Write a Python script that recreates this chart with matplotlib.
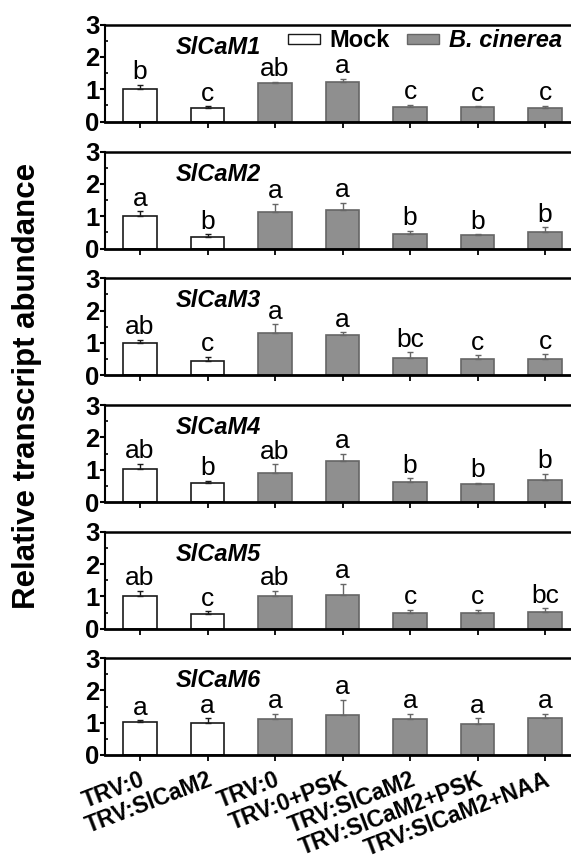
import numpy as np
import matplotlib
matplotlib.use("Agg")
import matplotlib.pyplot as plt
from matplotlib.patches import Patch

plt.rcParams['font.family'] = ['Liberation Sans', 'DejaVu Sans']

treatments = ['TRV:0', 'TRV:SlCaM2', 'TRV:0', 'TRV:0+PSK',
              'TRV:SlCaM2', 'TRV:SlCaM2+PSK', 'TRV:SlCaM2+NAA']
genes = ['SlCaM1', 'SlCaM2', 'SlCaM3', 'SlCaM4', 'SlCaM5', 'SlCaM6']
# first two bars are mock, the rest B. cinerea
is_mock = [True, True, False, False, False, False, False]

means = [
    [1.01, 0.42, 1.19, 1.21, 0.44, 0.44, 0.41],
    [1.00, 0.37, 1.13, 1.18, 0.45, 0.42, 0.50],
    [1.00, 0.44, 1.30, 1.25, 0.53, 0.49, 0.50],
    [1.02, 0.59, 0.90, 1.27, 0.63, 0.57, 0.67],
    [1.00, 0.44, 1.01, 1.04, 0.48, 0.48, 0.51],
    [1.01, 0.98, 1.10, 1.25, 1.12, 0.96, 1.15],
]
errs = [
    [0.12, 0.05, 0.04, 0.11, 0.07, 0.03, 0.07],
    [0.15, 0.07, 0.25, 0.24, 0.09, 0.02, 0.15],
    [0.10, 0.13, 0.28, 0.08, 0.18, 0.13, 0.15],
    [0.17, 0.07, 0.26, 0.23, 0.11, 0.02, 0.21],
    [0.17, 0.10, 0.16, 0.35, 0.10, 0.10, 0.12],
    [0.07, 0.16, 0.17, 0.46, 0.15, 0.18, 0.13],
]
letters = [
    ['b', 'c', 'ab', 'a', 'c', 'c', 'c'],
    ['a', 'b', 'a', 'a', 'b', 'b', 'b'],
    ['ab', 'c', 'a', 'a', 'bc', 'c', 'c'],
    ['ab', 'b', 'ab', 'a', 'b', 'b', 'b'],
    ['ab', 'c', 'ab', 'a', 'c', 'c', 'bc'],
    ['a', 'a', 'a', 'a', 'a', 'a', 'a'],
]

W, H = 571, 867
fig = plt.figure(figsize=(W / 100, H / 100), dpi=100)

gray = '#8f8f8f'
gray_edge = '#666666'
x = np.arange(len(treatments))
colors = ['white' if m else gray for m in is_mock]
edges = ['#1a1a1a' if m else gray_edge for m in is_mock]

left = 105 / W
width = 466 / W
ph = 97 / H
tops = [24.5, 151.5, 278.3, 405, 531.7, 658]

axes = []
for i, g in enumerate(genes):
    bottom = 1 - (tops[i] + 97) / H
    ax = fig.add_axes([left, bottom, width, ph])
    axes.append(ax)
    ax.bar(x, means[i], width=0.5, color=colors, edgecolor=edges, linewidth=1.2, zorder=2)
    for j in range(len(x)):
        ax.errorbar(x[j], means[i][j], yerr=[[0], [errs[i][j]]], fmt='none',
                    ecolor=edges[j], elinewidth=1, capsize=2.5, capthick=1, zorder=3)
        ax.annotate(letters[i][j], (x[j], means[i][j] + errs[i][j]),
                    xytext=(0, 4), textcoords='offset points',
                    ha='center', va='baseline', fontsize=19)
    ax.set_xlim(-0.519, 6.385)
    ax.set_ylim(0, 3)
    ax.set_yticks([0, 1, 2, 3])
    ax.set_yticklabels(['0', '1', '2', '3'], fontsize=18.5, fontweight='bold')
    ax.set_yticks([0.5, 1.5, 2.5], minor=True)
    ax.tick_params(axis='y', which='major', direction='out', length=3.5, width=1.5, pad=0.3)
    ax.tick_params(axis='y', which='minor', direction='in', length=2.5, width=1.2)
    ax.set_xticks(x)
    ax.tick_params(axis='x', direction='out', length=4.5, width=1.3)
    ax.spines['right'].set_visible(False)
    ax.spines['left'].set_linewidth(1.5)
    ax.spines['bottom'].set_linewidth(2)
    ax.spines['top'].set_linewidth(1.8)
    ax.text(0.152, 0.70, g, transform=ax.transAxes, fontsize=17,
            fontweight='bold', style='italic', va='baseline', ha='left')
    if i < len(genes) - 1:
        ax.set_xticklabels([])
    else:
        ax.set_xticklabels(treatments, rotation=21, ha='right', va='top',
                           rotation_mode='anchor', fontsize=16.5, fontweight='bold')
        ax.tick_params(axis='x', pad=5)

handles = [Patch(facecolor='white', edgecolor='#1a1a1a', linewidth=1),
           Patch(facecolor=gray, edgecolor=gray_edge, linewidth=1)]
leg = axes[0].legend(handles, ['Mock', 'B. cinerea'], ncol=2, frameon=False,
                     loc='center left', bbox_to_anchor=((288 - 105) / 466, 0.83),
                     prop={'size': 17, 'weight': 'bold'}, handlelength=1.35,
                     handleheight=0.33, handletextpad=0.4, columnspacing=0.75,
                     borderpad=0, borderaxespad=0)
leg.get_texts()[1].set_style('italic')

fig.text(0.047, 1 - 386 / H, 'Relative transcript abundance', rotation=90,
         fontsize=22.5, fontweight='bold', ha='center', va='center')

fig.savefig('out.png', dpi=100)
